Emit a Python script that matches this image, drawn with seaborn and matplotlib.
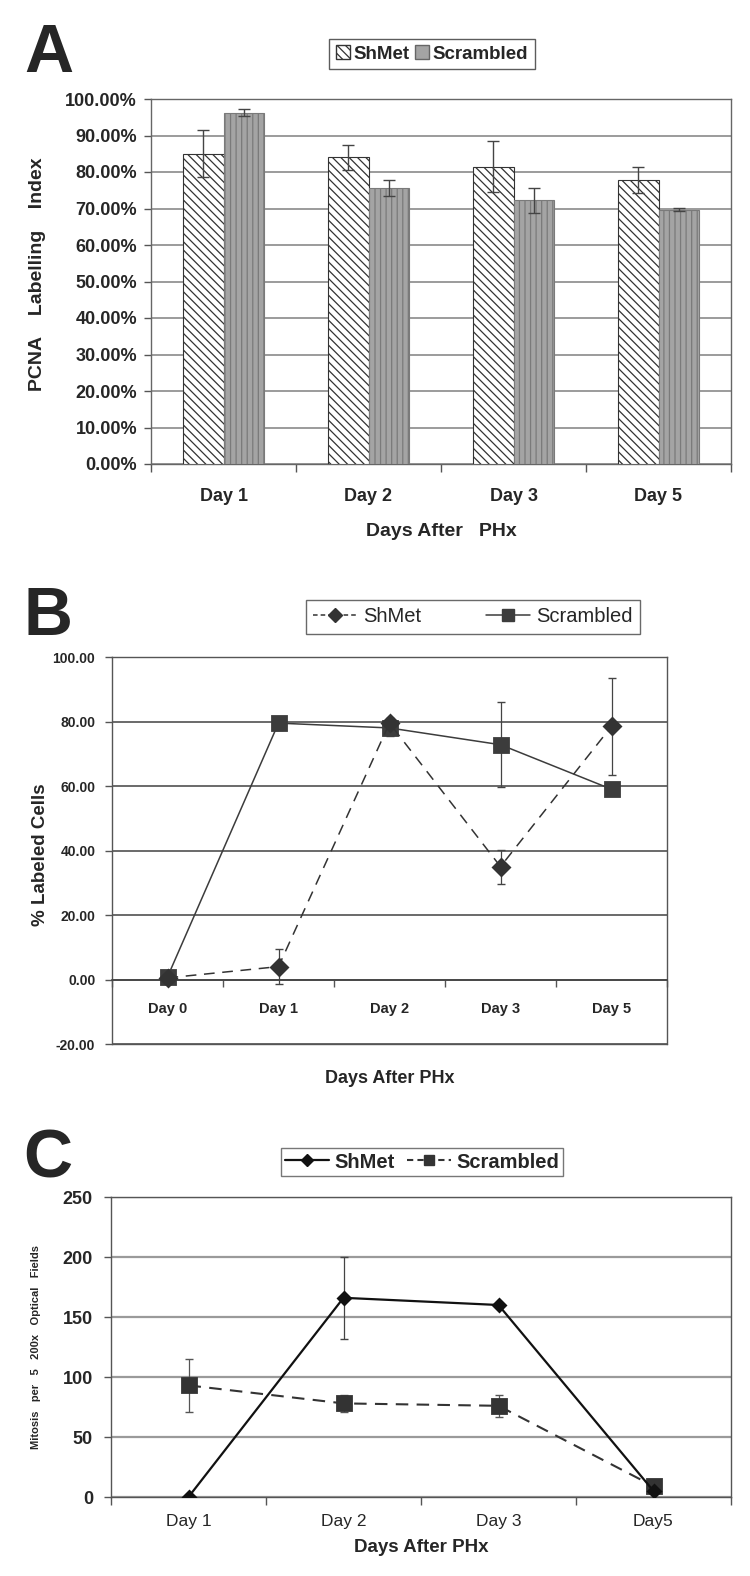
import numpy as np
import pandas as pd
import matplotlib
matplotlib.use('Agg')
import matplotlib.pyplot as plt
import seaborn as sns
from matplotlib.patches import Patch
from matplotlib.lines import Line2D
from matplotlib.ticker import FixedLocator, FuncFormatter

sns.set_theme(style='white')
FONT = ['Liberation Sans', 'DejaVu Sans']
plt.rcParams['font.family'] = FONT
plt.rcParams['hatch.linewidth'] = 0.9

# ---- panel A: PCNA labelling index (%)
days_a = ['Day 1', 'Day 2', 'Day 3', 'Day 5']
shmet_a = [85.0, 84.0, 81.5, 77.8]
shmet_a_err = [6.5, 3.5, 7.0, 3.5]
scr_a = [96.3, 75.7, 72.2, 69.7]
scr_a_err = [1.0, 2.2, 3.5, 0.5]

# ---- panel B: % labeled cells
days_b = ['Day 0', 'Day 1', 'Day 2', 'Day 3', 'Day 5']
shmet_b = [0.5, 4.0, 79.5, 35.0, 78.5]
shmet_b_err = [0.5, 5.5, 1.5, 5.3, 15.0]
scr_b = [0.8, 79.5, 78.0, 72.8, 59.0]
scr_b_err = [0.5, 2.0, 2.5, 13.2, 0.5]

# ---- panel C: mitosis per 5 200x optical fields
days_c = ['Day 1', 'Day 2', 'Day 3', 'Day5']
shmet_c = [0, 166, 160, 5]
shmet_c_err = [0, 34, 2, 2]
scr_c = [93, 78, 76, 9]
scr_c_err = [22, 7, 9, 3]

groups = ['ShMet', 'Scrambled']

W, H = 750, 1576
fig = plt.figure(figsize=(W / 100, H / 100), dpi=100)


def rect(l, t, r, b):
    return [l / W, 1 - b / H, (r - l) / W, (b - t) / H]


def cat_ticks(ax, n, pad, size, weight='bold', ticklen=5):
    # category labels in the middle, tick marks on the boundaries (Excel style)
    ax.set_xlim(-0.5, n - 0.5)
    ax.xaxis.set_major_locator(FixedLocator(np.arange(n)))
    ax.xaxis.set_minor_locator(FixedLocator(np.arange(n + 1) - 0.5))
    ax.tick_params(axis='x', which='major', length=0, pad=pad)
    ax.tick_params(axis='x', which='minor', length=ticklen, width=1, color='#555', direction='out', bottom=True)
    for lab in ax.get_xticklabels():
        lab.set_fontsize(size)
        lab.set_weight(weight)


def y_ticks(ax, size, pad):
    ax.tick_params(axis='y', length=5, width=1, color='#555', direction='out', left=True, labelsize=size, pad=pad)
    for lab in ax.get_yticklabels():
        lab.set_weight('bold')


# ================= A =================
axA = fig.add_axes(rect(151, 99, 731, 464))
df_a = pd.DataFrame({'day': days_a * 2,
                     'group': ['ShMet'] * 4 + ['Scrambled'] * 4,
                     'val': shmet_a + scr_a})
sns.barplot(data=df_a, x='day', y='val', hue='group', order=days_a, hue_order=groups,
            palette=['white', '#a4a4a4'], width=0.56, errorbar=None, gap=0,
            edgecolor='#333', linewidth=0.8, legend=False, ax=axA, zorder=3)
for b in axA.containers[0]:
    b.set_hatch('\\\\\\\\')
for b in axA.containers[1]:
    b.set_hatch('|||')
    b.set_edgecolor('#7a7a7a')
for cont, err in zip(axA.containers, [shmet_a_err, scr_a_err]):
    xs = [b.get_x() + b.get_width() / 2 for b in cont]
    ys = [b.get_height() for b in cont]
    axA.errorbar(xs, ys, yerr=err, fmt='none', ecolor='#444', elinewidth=1, capsize=4, zorder=4)

axA.set_ylim(0, 100)
axA.set_yticks(np.arange(0, 101, 10))
axA.yaxis.set_major_formatter(FuncFormatter(lambda v, p: f'{v:.2f}%'))
y_ticks(axA, 13, 5)
axA.grid(axis='y', color='#8a8a8a', lw=1.2, zorder=0)
cat_ticks(axA, 4, 17, 13, ticklen=6)
for s in axA.spines.values():
    s.set_color('#666')
    s.set_linewidth(1)
axA.set_xlabel('Days After   PHx', fontsize=14, weight='bold')
axA.xaxis.set_label_coords(0.5, -0.184)
axA.xaxis.label.set_va('center')
axA.set_ylabel('PCNA    Labelling    Index', fontsize=14, weight='bold')
axA.yaxis.set_label_coords(-0.195, 0.52)
axA.yaxis.label.set_va('center')

fig.legend(handles=[Patch(facecolor='white', edgecolor='#333', hatch='\\\\\\\\'),
                    Patch(facecolor='#a4a4a4', edgecolor='#666')],
           labels=groups, loc='center', bbox_to_anchor=(432 / W, 1 - 54 / H), ncol=2,
           frameon=True, fancybox=False, edgecolor='#333', handlelength=0.75, handleheight=0.75,
           handletextpad=0.2, columnspacing=0.3, borderpad=0.35,
           prop={'weight': 'bold', 'size': 13.5})
fig.text(24 / W, 1 - 72 / H, 'A', fontsize=49, weight='bold', va='baseline', ha='left')

# ================= B =================
axB = fig.add_axes(rect(112, 657, 667, 1044))
df_b = pd.DataFrame({'day': days_b * 2,
                     'group': ['ShMet'] * 5 + ['Scrambled'] * 5,
                     'val': shmet_b + scr_b})
sns.pointplot(data=df_b, x='day', y='val', hue='group', order=days_b, hue_order=groups,
              palette=['#333333', '#3c3c3c'], markers=['D', 's'], linestyles=['--', '-'],
              errorbar=None, legend=False, ax=axB)
lnB = axB.lines
lnB[0].set_dashes([7, 5])
lnB[0].set_linewidth(1.1)
lnB[0].set_markersize(8)
lnB[0].set_zorder(5)
lnB[1].set_linewidth(1.1)
lnB[1].set_markersize(9.5)
lnB[1].set_zorder(4)
xb = np.arange(len(days_b))
axB.errorbar(xb, shmet_b, yerr=shmet_b_err, fmt='none', ecolor='#444', elinewidth=0.9, capsize=3, zorder=3)
axB.errorbar(xb, scr_b, yerr=scr_b_err, fmt='none', ecolor='#444', elinewidth=0.9, capsize=3, zorder=3)

axB.set_ylim(-20, 100)
axB.set_yticks(np.arange(-20, 101, 20))
axB.yaxis.set_major_formatter(FuncFormatter(lambda v, p: f'{v:.2f}'))
y_ticks(axB, 10, 7)
axB.grid(axis='y', color='#505050', lw=1.2, zorder=0)
axB.spines['bottom'].set_position(('data', 0))
axB.spines['bottom'].set_color('#444')
axB.spines['bottom'].set_linewidth(1.2)
for s in ['left', 'right', 'top']:
    axB.spines[s].set_color('#555')
    axB.spines[s].set_linewidth(1)
axB.plot([0, 1], [0, 0], transform=axB.transAxes, color='#555', lw=1, clip_on=False)
cat_ticks(axB, 5, 16, 10.5, ticklen=5)
axB.set_xlabel('Days After PHx', fontsize=13, weight='bold')
axB.xaxis.set_label_coords(0.5, -0.088)
axB.xaxis.label.set_va('center')
axB.set_ylabel('% Labeled Cells', fontsize=13.5, weight='bold')
axB.yaxis.set_label_coords(-0.128, 0.49)
axB.yaxis.label.set_va('center')

fig.legend(handles=[Line2D([], [], color='#333', ls=(0, (3, 2)), lw=1.1, marker='D', markersize=7),
                    Line2D([], [], color='#3c3c3c', ls='-', lw=1.1, marker='s', markersize=8)],
           labels=groups, loc='center', bbox_to_anchor=(473 / W, 1 - 617 / H), ncol=2,
           frameon=True, fancybox=False, edgecolor='#444', handlelength=2.2,
           handletextpad=0.3, columnspacing=3.2, borderpad=0.35, borderaxespad=0,
           prop={'size': 14.5})
fig.text(24 / W, 1 - 635 / H, 'B', fontsize=49, weight='bold', va='baseline', ha='left')

# ================= C =================
axC = fig.add_axes(rect(111, 1197, 731, 1497))
df_c = pd.DataFrame({'day': days_c * 2,
                     'group': ['ShMet'] * 4 + ['Scrambled'] * 4,
                     'val': shmet_c + scr_c})
sns.pointplot(data=df_c, x='day', y='val', hue='group', order=days_c, hue_order=groups,
              palette=['#111111', '#333333'], markers=['D', 's'], linestyles=['-', '--'],
              errorbar=None, legend=False, ax=axC)
lnC = axC.lines
lnC[0].set_linewidth(1.6)
lnC[0].set_markersize(6)
lnC[0].set_zorder(5)
lnC[1].set_linewidth(1.5)
lnC[1].set_dashes([6, 4])
lnC[1].set_markersize(9.5)
lnC[1].set_zorder(4)
xc = np.arange(len(days_c))
axC.errorbar(xc, shmet_c, yerr=shmet_c_err, fmt='none', ecolor='#444', elinewidth=0.9, capsize=3, zorder=3)
axC.errorbar(xc, scr_c, yerr=scr_c_err, fmt='none', ecolor='#555', elinewidth=0.9, capsize=3, zorder=3)

axC.set_ylim(0, 250)
axC.set_yticks(np.arange(0, 251, 50))
y_ticks(axC, 13, 8)
axC.grid(axis='y', color='#9a9a9a', lw=1.6, zorder=0)
for s in axC.spines.values():
    s.set_color('#555')
    s.set_linewidth(1)
cat_ticks(axC, 4, 12, 12.5, weight='normal', ticklen=6)
axC.set_xlabel('Days After PHx', fontsize=13.5, weight='bold')
axC.xaxis.set_label_coords(0.5, -0.17)
axC.xaxis.label.set_va('center')
axC.set_ylabel('Mitosis   per   5   200x   Optical   Fields', fontsize=8, weight='bold')
axC.yaxis.set_label_coords(-0.121, 0.5)
axC.yaxis.label.set_va('center')

fig.legend(handles=[Line2D([], [], color='#111', ls='-', lw=1.6, marker='D', markersize=6),
                    Line2D([], [], color='#333', ls=(0, (3, 2)), lw=1.5, marker='s', markersize=7)],
           labels=groups, loc='center', bbox_to_anchor=(422 / W, 1 - 1162 / H), ncol=2,
           frameon=True, fancybox=False, edgecolor='#555', handlelength=2.2,
           handletextpad=0.25, columnspacing=0.6, borderpad=0.2, borderaxespad=0,
           prop={'weight': 'bold', 'size': 14.5})
fig.text(23 / W, 1 - 1177 / H, 'C', fontsize=49, weight='bold', va='baseline', ha='left')

fig.savefig('out.png', dpi=100)
